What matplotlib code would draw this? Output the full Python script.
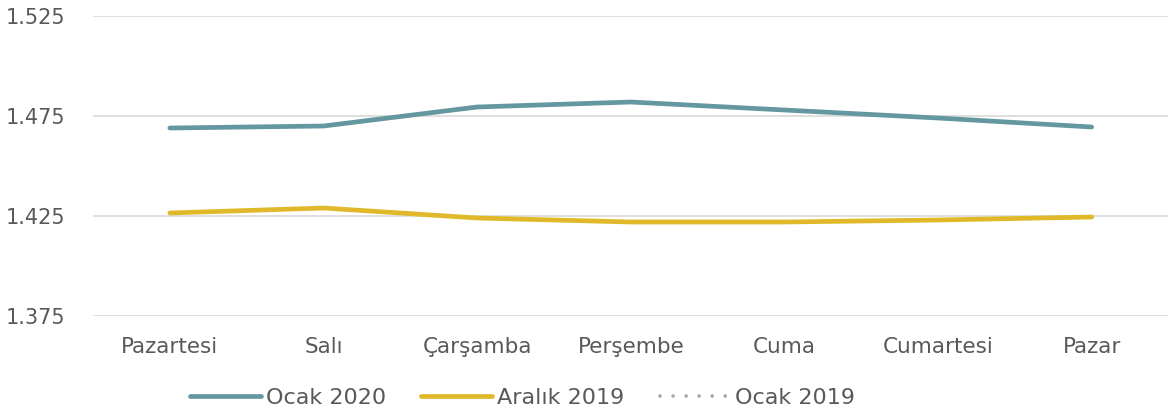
import matplotlib.pyplot as plt
import numpy as np

days = ["Pazartesi", "Salı", "Çarşamba", "Perşembe", "Cuma", "Cumartesi", "Pazar"]
ocak_2020 = [1.4690, 1.4700, 1.4795, 1.4820, 1.4780, 1.4740, 1.4695]
aralik_2019 = [1.4265, 1.4290, 1.4240, 1.4220, 1.4220, 1.4230, 1.4245]
ocak_2019 = [np.nan] * 7  # not visible in the chart range
y_ticks = [1.375, 1.425, 1.475, 1.525]

plt.rcParams["font.family"] = ["DejaVu Sans"]
text_color = "#595959"

fig = plt.figure(figsize=(11.72, 4.16), dpi=100)
ax = fig.add_axes([0.0794, 0.2404, 0.9176, 0.7211])

x = np.arange(len(days))
ax.plot(x, ocak_2020, color="#6497A0", lw=3.4, solid_capstyle="round", label="Ocak 2020")
ax.plot(x, aralik_2019, color="#E0B92A", lw=3.4, solid_capstyle="round", label="Aralık 2019")
ax.plot(x, ocak_2019, color="#A6A6A6", lw=2.6, ls=(0, (0.01, 3.6)), dash_capstyle="round",
        label="Ocak 2019")

ax.set_xlim(-0.5, len(days) - 0.5)
ax.set_ylim(y_ticks[0], y_ticks[-1])
ax.set_yticks(y_ticks)
ax.set_yticklabels([f"{v:.3f}" for v in y_ticks])
ax.set_xticks(x)
ax.set_xticklabels(days)
ax.grid(axis="y", color="#D9D9D9", lw=1.2)
ax.set_axisbelow(True)
for s in ax.spines.values():
    s.set_visible(False)
ax.tick_params(length=0, colors=text_color)
ax.tick_params(axis="x", labelsize=15.5, pad=15)
ax.tick_params(axis="y", labelsize=15, pad=20)

leg = fig.legend(loc="center", bbox_to_anchor=(0.446, 0.043), ncol=3, frameon=False,
                 fontsize=16, handlelength=3.2, handletextpad=0.2, columnspacing=1.6)
for t in leg.get_texts():
    t.set_color(text_color)

fig.savefig("out.png", dpi=100)
